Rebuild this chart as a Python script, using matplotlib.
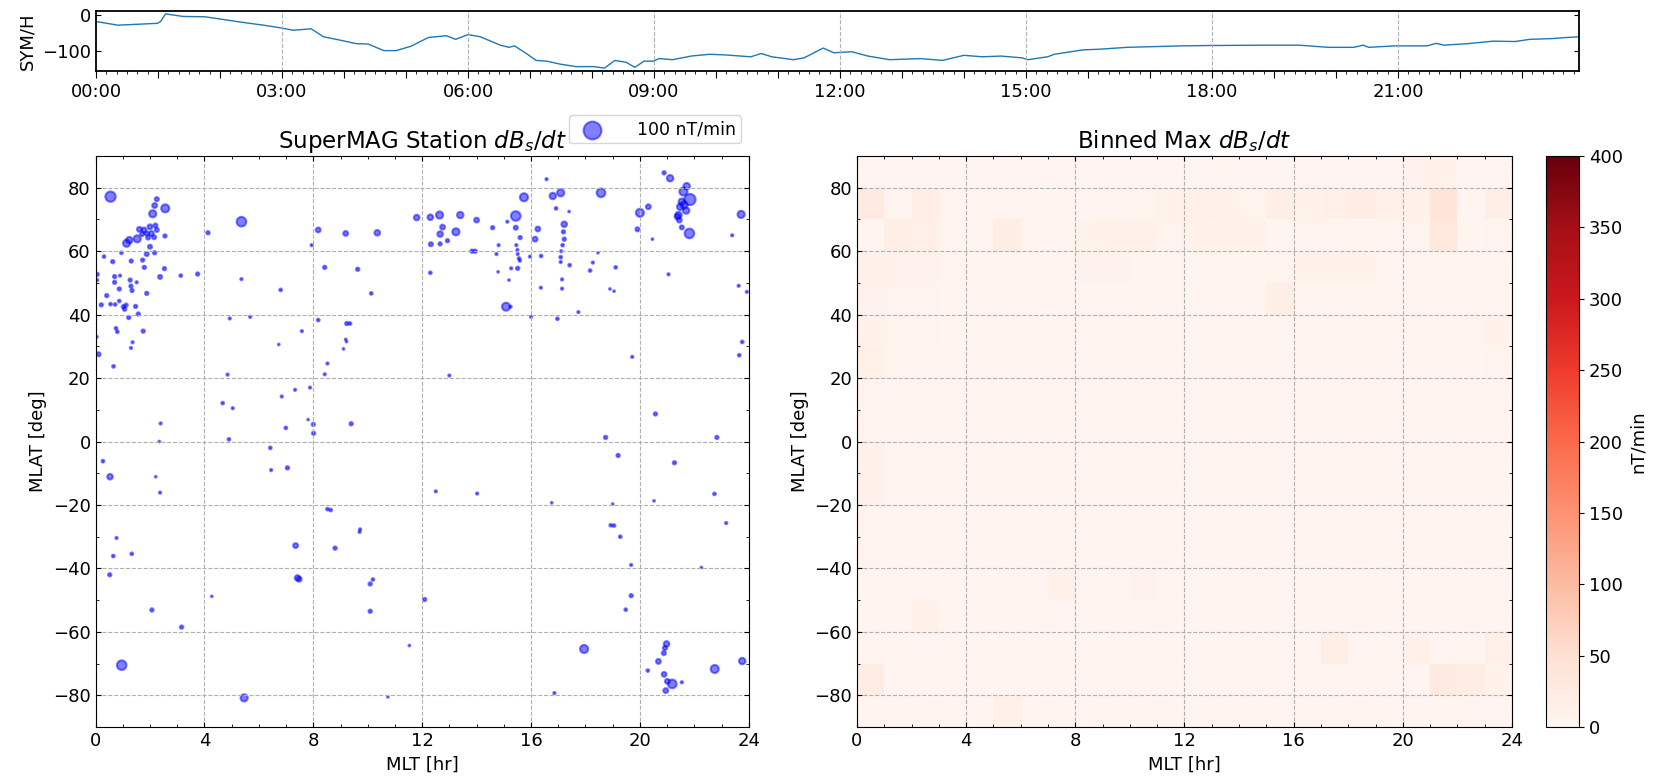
import numpy as np
import pandas as pd
import matplotlib
matplotlib.use('Agg')
import matplotlib.pyplot as plt
import matplotlib.dates as mdates
from matplotlib.ticker import MultipleLocator, FuncFormatter

# ---- SYM/H index (hours after 00:00, nT) ----
symh_hour = [0, 0.35, 0.99, 1.04, 1.12, 1.4, 1.76, 2.35, 2.7, 3.0, 3.18, 3.47, 3.67,
             3.93, 4.2, 4.39, 4.64, 4.84, 5.08, 5.36, 5.65, 5.8, 6.0, 6.2, 6.52, 6.66,
             6.75, 6.94, 7.1, 7.27, 7.48, 7.74, 8.02, 8.2, 8.37, 8.55, 8.69, 8.84, 8.99,
             9.08, 9.3, 9.6, 9.9, 10.16, 10.56, 10.73, 10.9, 11.25, 11.42, 11.73, 11.9,
             12.19, 12.45, 12.8, 13.3, 13.65, 14.0, 14.3, 14.6, 14.94, 15.03, 15.35,
             15.46, 15.92, 16.2, 16.63, 17.51, 17.95, 18.87, 19.4, 19.88, 20.29, 20.44,
             20.53, 20.94, 21.47, 21.62, 21.74, 22.12, 22.54, 22.89, 23.13, 23.48,
             23.72, 23.92]
symh_val = [-19, -29, -24, -19, 2, -5, -6, -21, -29, -37, -43, -39, -61,
            -70, -80, -81, -99, -99, -87, -63, -58, -68, -55, -61, -84, -90,
            -86, -107, -126, -128, -136, -143, -143, -147, -126, -131, -145, -128, -128,
            -121, -124, -114, -109, -111, -116, -107, -116, -124, -119, -92, -105,
            -102, -114, -124, -121, -126, -112, -116, -114, -119, -124, -116,
            -109, -97, -95, -90, -86, -85, -84, -84, -90, -90, -84,
            -90, -86, -86, -79, -84, -80, -73, -74, -68, -66,
            -63, -61]

# ---- station snapshot: MLT [hr], MLAT [deg], dB/dt [nT/min] ----
sta_mlt = [0.55, 2.25, 2.17, 2.1, 2.56, 5.36, 1.14, 1.24, 1.53, 1.61, 1.78, 2.0, 2.2,
           2.25, 1.88, 2.05, 2.15, 1.93, 1.71, 2.55, 4.13, 2.0, 1.88, 2.17, 0.95, 0.31,
           0.63, 1.31, 1.73, 1.79, 2.53, 2.37, 3.13, 3.75, 0.06, 0.06, 0.7, 0.7, 0.9,
           1.27, 1.51, 0.87, 1.3, 1.34, 1.88, 5.36, 6.8, 0.41, 0.21, 0.55, 0.72, 0.87,
           1.02, 1.07, 1.12, 1.47, 1.22, 1.57, 0.75, 0.8, 1.75, 1.36, 1.3, 0.11, 0.04,
           4.93, 5.68, 6.73, 7.58, 8.18, 9.23, 9.35, 9.19, 9.22, 9.11, 8.18, 7.94, 8.42,
           9.19, 9.63, 10.13, 10.35, 11.8, 12.3, 12.64, 12.75, 12.66, 13.24, 13.4, 12.32,
           12.66, 12.93, 14.0, 13.83, 13.95, 12.3,
           14.59, 15.13, 15.44, 15.74, 15.44, 15.6, 14.81, 14.73, 15.46, 15.5, 15.51,
           15.56, 15.59, 15.51, 15.27, 14.79, 15.19, 15.08, 15.25, 15.96, 16.15, 16.25,
           16.37, 16.36, 16.0, 16.57, 16.8, 17.09, 16.92, 17.4, 17.22, 17.19, 17.22,
           17.16, 17.11, 17.09, 17.09, 17.42, 17.14, 17.14, 16.97, 17.74, 18.57, 18.46,
           18.27, 18.17, 19.11, 18.9, 19.05, 20.0, 19.91, 20.31, 20.46, 20.89, 21.11,
           21.72, 21.6, 21.84, 21.54, 21.48, 21.42, 21.7, 21.62, 21.38, 21.45, 21.54,
           21.82, 21.05, 23.39, 23.72, 23.63, 23.93, 23.76, 23.65, 19.72,
           0.66, 8.52, 8.42, 4.85, 7.33, 7.88, 6.84, 4.67, 5.04, 2.39, 7.81, 8.0, 8.01,
           6.99, 9.39, 4.9, 2.34, 6.42, 0.27, 0.53, 6.45, 7.05, 2.21, 2.37, 13.0, 20.57,
           18.74, 22.83, 19.2, 21.27, 12.5, 14.02, 22.74,
           8.52, 8.64, 0.77, 0.65, 1.33, 0.52, 7.35, 9.7, 9.72, 8.8, 7.42, 7.48, 4.27,
           2.07, 10.09, 10.19, 10.09, 12.09, 3.16, 11.53, 0.96, 5.46, 10.74,
           16.76, 19.0, 20.52, 18.93, 19.05, 19.28, 23.17, 19.68, 22.26, 19.68, 19.48,
           17.95, 20.98, 20.92, 20.88, 20.68, 20.29, 20.89, 21.01, 21.19, 20.95, 21.54,
           22.75, 23.76, 16.86]
sta_mlat = [77.2, 76.4, 74.4, 71.8, 73.5, 69.3, 62.5, 63.5, 63.9, 66.9, 66.7, 67.7, 68.1,
            66.7, 65.6, 65.6, 64.4, 64.3, 65.4, 64.8, 65.8, 61.4, 59.1, 59.5, 59.5, 58.3,
            56.7, 56.9, 57.2, 54.9, 54.5, 51.9, 52.3, 52.8, 52.7, 50.9, 52.0, 50.2, 52.3,
            50.9, 50.2, 48.1, 49.0, 47.6, 46.7, 51.2, 47.8, 46.0, 43.1, 43.3, 43.2, 44.3,
            42.5, 41.7, 43.0, 42.6, 39.1, 40.2, 35.7, 34.6, 34.8, 31.3, 29.5, 27.5, 33.0,
            38.8, 39.3, 30.6, 34.8, 38.3, 37.2, 37.2, 32.2, 31.5, 29.2, 66.7, 61.9, 54.9,
            65.6, 54.3, 46.7, 65.8, 70.6, 70.7, 71.4, 67.6, 65.4, 66.1, 71.4, 62.2,
            62.3, 63.3, 69.8, 60.0, 60.0, 53.2,
            67.4, 69.3, 71.1, 77.0, 67.4, 64.3, 61.9, 59.1, 61.9, 60.4, 59.1,
            57.7, 57.0, 54.6, 54.6, 53.5, 50.9, 42.5, 42.5, 58.3, 63.8, 67.0,
            58.5, 48.5, 39.3, 82.7, 77.4, 78.4, 73.5, 72.5, 68.5, 66.1, 63.8,
            61.9, 60.0, 58.1, 56.6, 55.6, 51.1, 48.2, 38.7, 40.8, 78.4, 59.5,
            56.4, 53.9, 54.9, 48.1, 47.4, 72.1, 66.9, 74.0, 63.8, 84.7, 83.0,
            80.5, 78.8, 76.3, 75.6, 74.0, 71.4, 72.8, 74.6, 70.9, 69.8, 67.5,
            65.6, 52.7, 65.0, 71.6, 49.1, 47.2, 31.4, 27.2, 26.7,
            23.7, 24.6, 21.2, 21.1, 16.3, 17.0, 14.2, 12.1, 10.5, 5.7, 6.9, 5.4, 2.6,
            4.3, 5.6, 0.7, 0.0, -2.0, -6.2, -11.1, -9.0, -8.3, -11.1, -16.1, 20.8, 8.7,
            1.3, 1.3, -4.4, -6.7, -15.7, -16.4, -16.5,
            -21.3, -21.6, -30.4, -36.1, -35.4, -42.0, -32.8, -28.5, -27.7, -33.6, -43.0, -43.4, -48.8,
            -53.1, -44.9, -43.5, -53.5, -49.8, -58.5, -64.3, -70.5, -80.8, -80.5,
            -19.3, -19.7, -18.7, -26.4, -26.5, -30.0, -25.7, -38.9, -39.7, -48.6, -53.0,
            -65.4, -63.8, -65.1, -66.7, -69.3, -72.2, -73.4, -75.6, -76.4, -78.5, -75.9,
            -71.7, -69.2, -79.3]
sta_dbdt = [31, 4.8, 6.8, 15, 19, 27, 15, 12, 15, 6.8, 6.8, 6.8, 4.8,
            4.8, 4.8, 6.8, 4.8, 4.8, 4.8, 3.3, 3.3, 4.8, 4.8, 3.3, 2.2, 2.2,
            3.3, 3.3, 3.3, 3.3, 3.3, 4.8, 2.2, 3.3, 3.3, 1.5, 3.3, 3.3, 1.5,
            3.3, 1.5, 3.3, 3.3, 3.3, 3.3, 1.5, 2.2, 3.3, 3.3, 2.2, 2.2, 2.2,
            3.3, 3.3, 3.3, 3.3, 3.3, 3.3, 2.2, 2.2, 3.3, 1.5, 1.5, 4.8, 1.5,
            1.5, 1.5, 0.9, 1.5, 2.2, 3.3, 2.2, 0.9, 0.9, 0.9, 6.8, 1.5, 3.3,
            6.8, 3.3, 2.2, 9, 9, 9, 15, 6.8, 9, 15, 12, 4.8,
            3.3, 3.3, 6.8, 3.3, 3.3, 2.2,
            3.3, 1.5, 27, 19, 4.8, 3.3, 1.5, 1.5, 1.5, 1.5, 1.5,
            2.2, 1.5, 3.3, 1.5, 0.9, 0.9, 19, 1.5, 1.5, 6.8, 6.8,
            2.2, 1.5, 1.5, 1.5, 12, 15, 2.2, 0.9, 9, 3.3, 3.3,
            2.2, 1.5, 2.2, 1.5, 2.2, 1.5, 1.5, 2.2, 1.5, 22, 0.9,
            1.5, 2.2, 2.2, 0.9, 0.9, 19, 4.8, 6.8, 0.9, 3.3, 12,
            12, 19, 37, 12, 12, 12, 12, 15, 9, 6.8, 4.8,
            27, 1.5, 1.5, 15, 1.5, 1.5, 2.2, 2.2, 1.5,
            2.2, 1.5, 1.5, 1.5, 1.5, 1.5, 1.5, 2.2, 1.5, 1.5, 0.9, 3.3, 3.3,
            2.2, 3.3, 2.2, 0.9, 2.2, 2.2, 9, 1.5, 3.3, 0.9, 1.5, 1.5, 3.3,
            3.3, 3.3, 3.3, 3.3, 1.5, 1.5, 2.2,
            2.2, 2.2, 1.5, 2.2, 2.2, 3.3, 6.8, 1.5, 1.5, 3.3, 9, 6.8, 0.9,
            3.3, 3.3, 2.2, 3.3, 3.3, 3.3, 0.9, 27, 15, 0.9,
            0.9, 0.9, 0.9, 2.2, 2.2, 2.2, 1.5, 1.5, 0.9, 3.3, 2.2,
            19, 9, 4.8, 4.8, 6.8, 2.2, 6.8, 6.8, 22, 6.8, 1.5,
            19, 12, 1.5]

# ---- binned max dB/dt [nT/min]; rows MLAT 80..90 down to -90..-80, cols MLT 0..24 ----
mlt_edges = list(range(0, 25))
mlat_edges = list(range(-90, 91, 10))
binned_max = [
    [3, 3, 3, 3, 3, 3, 3, 3, 3, 3, 3, 3, 3, 4, 3, 3, 3, 3, 3, 3, 7, 9, 3, 3],
    [25, 2, 18, 6, 3, 3, 3, 3, 3, 3, 6, 8, 10, 8, 6, 18, 8, 15, 20, 12, 8, 40, 2, 18],
    [2, 18, 15, 6, 4, 22, 4, 4, 8, 10, 12, 6, 8, 8, 8, 4, 6, 4, 2, 4, 6, 30, 4, 6],
    [8, 7, 7, 6, 4, 4, 4, 4, 7, 7, 4, 4, 4, 4, 4, 6, 8, 8, 8, 4, 4, 6, 4, 4],
    [7, 5, 5, 4, 4, 4, 4, 4, 4, 4, 4, 4, 4, 4, 4, 18, 4, 4, 4, 4, 4, 4, 4, 4],
    [8, 5, 5, 4, 3, 3, 3, 3, 3, 3, 3, 3, 3, 3, 3, 3, 3, 3, 3, 3, 3, 3, 5, 8],
    [14, 5, 3, 3, 3, 3, 3, 3, 3, 3, 3, 3, 3, 3, 3, 3, 3, 3, 3, 3, 3, 3, 3, 6],
    [6, 3, 3, 3, 3, 3, 3, 3, 3, 3, 3, 3, 3, 3, 3, 3, 3, 3, 3, 3, 3, 3, 3, 3],
    [6, 3, 3, 3, 3, 3, 3, 3, 3, 3, 3, 3, 3, 3, 3, 3, 3, 3, 3, 3, 3, 3, 3, 3],
    [8, 3, 3, 3, 3, 3, 3, 3, 3, 3, 3, 3, 3, 3, 3, 3, 3, 3, 3, 3, 3, 3, 3, 3],
    [10, 3, 3, 3, 3, 3, 3, 3, 3, 3, 3, 3, 3, 3, 3, 3, 3, 3, 3, 3, 3, 3, 3, 3],
    [5, 3, 3, 3, 3, 3, 3, 3, 3, 3, 3, 3, 3, 3, 3, 3, 3, 3, 3, 3, 3, 3, 3, 3],
    [5, 3, 3, 3, 3, 3, 3, 3, 3, 3, 3, 3, 3, 3, 3, 3, 3, 3, 3, 3, 3, 3, 3, 3],
    [3, 3, 3, 3, 3, 3, 3, 10, 3, 3, 7, 3, 3, 3, 3, 3, 3, 3, 3, 3, 3, 3, 3, 3],
    [3, 3, 10, 3, 3, 3, 3, 3, 3, 3, 3, 3, 3, 3, 3, 3, 3, 3, 3, 3, 3, 3, 3, 3],
    [3, 3, 3, 3, 3, 3, 3, 3, 3, 3, 3, 3, 3, 3, 3, 3, 3, 18, 3, 3, 10, 3, 3, 15],
    [22, 3, 3, 3, 3, 3, 3, 3, 3, 3, 3, 3, 3, 3, 3, 3, 3, 3, 3, 3, 3, 25, 20, 8],
    [3, 3, 3, 3, 3, 14, 3, 3, 3, 3, 3, 3, 3, 3, 3, 3, 3, 3, 3, 3, 3, 3, 3, 3],
]

plt.rcParams['font.size'] = 13

fig = plt.figure(figsize=(16.65, 7.79), dpi=100)

# ---------- SYM/H panel ----------
ax0 = fig.add_axes([0.0577, 0.9089, 0.8906, 0.077])
day = pd.Timestamp('2000-01-01')
t = [day + pd.Timedelta(hours=h) for h in symh_hour]
ax0.plot(t, symh_val, color='tab:blue', lw=1.0)
ax0.set_xlim(t[0], t[-1])
ax0.set_ylim(-155, 10)
ax0.set_ylabel('SYM/H')
ax0.xaxis.set_major_locator(mdates.HourLocator(interval=1))
ax0.xaxis.set_minor_locator(mdates.MinuteLocator(byminute=[10, 20, 30, 40, 50]))
ax0.xaxis.set_major_formatter(FuncFormatter(
    lambda x, p: mdates.num2date(x).strftime('%H:%M') if mdates.num2date(x).hour % 3 == 0 else ''))
ax0.tick_params(axis='x', which='major', direction='out', length=5)
ax0.tick_params(axis='x', which='minor', direction='out', length=2.5)
ax0.tick_params(axis='y', direction='in', right=True)
for h in range(3, 24, 3):
    ax0.axvline(day + pd.Timedelta(hours=h), color='#b0b0b0', ls='--', lw=0.8)
for s in ax0.spines.values():
    s.set_linewidth(1.3)

# ---------- station scatter ----------
ax1 = fig.add_axes([0.0574, 0.0667, 0.3923, 0.733])
ax1.scatter(sta_mlt, sta_mlat, s=np.array(sta_dbdt) * 1.79, c='blue', alpha=0.5, linewidths=1.5)
ax1.scatter([], [], s=100 * 1.65, c='blue', alpha=0.5, linewidths=1.5, label='100 nT/min')
ax1.legend(loc='lower right', bbox_to_anchor=(0.988, 1.022), borderaxespad=0,
           handletextpad=1.6, borderpad=0.3, fontsize=12.5)
ax1.set_title('SuperMAG Station $dB_s/dt$', fontsize=16.5)

# ---------- binned max heatmap ----------
ax2 = fig.add_axes([0.5147, 0.0667, 0.3934, 0.733])
grid = np.array(binned_max)[::-1]
mesh = ax2.pcolormesh(mlt_edges, mlat_edges, grid, cmap='Reds', vmin=0, vmax=400)
ax2.set_title('Binned Max $dB_s/dt$', fontsize=16.5)

for ax in (ax1, ax2):
    ax.set_xlim(0, 24)
    ax.set_ylim(-90, 90)
    ax.xaxis.set_major_locator(MultipleLocator(4))
    ax.xaxis.set_minor_locator(MultipleLocator(1))
    ax.yaxis.set_major_locator(MultipleLocator(20))
    ax.yaxis.set_minor_locator(MultipleLocator(10))
    ax.tick_params(which='both', direction='in', top=True, right=True)
    ax.grid(True, ls='--', color='#b0b0b0')
    ax.set_xlabel('MLT [hr]')
    ax.set_ylabel('MLAT [deg]')

cax = fig.add_axes([0.9285, 0.0667, 0.0198, 0.733])
cb = fig.colorbar(mesh, cax=cax)
cb.set_label('nT/min')
cb.set_ticks(range(0, 401, 50))

fig.savefig('out.png', dpi=100)
